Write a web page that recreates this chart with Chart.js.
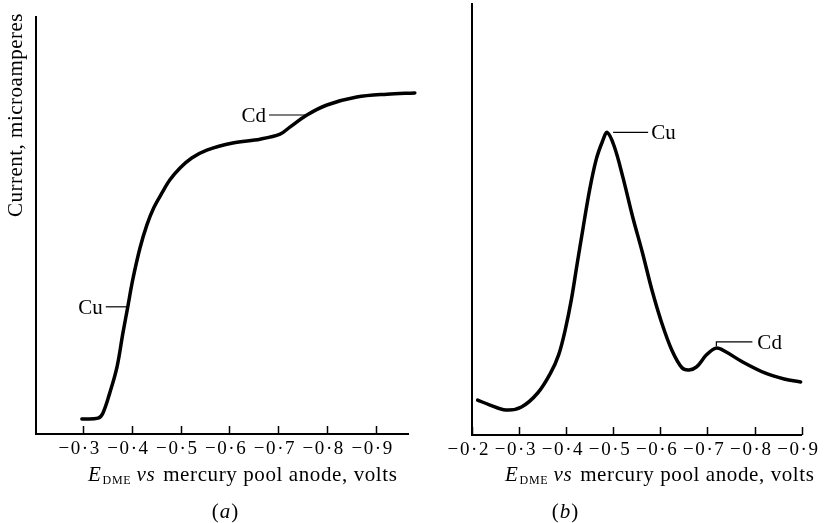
<!DOCTYPE html>
<html><head><meta charset="utf-8">
<script src="https://cdn.jsdelivr.net/npm/chart.js@4.4.1/dist/chart.umd.min.js"></script>
<style>
html,body{margin:0;padding:0;background:#fff;width:826px;height:523px;overflow:hidden}
#ca{position:absolute;left:0;top:0}
#cb{position:absolute;left:430px;top:0}
</style></head><body>
<canvas id="ca" width="420" height="523"></canvas>
<canvas id="cb" width="396" height="523"></canvas>
<script>
// ---- data (panel a: polarogram, panel b: derivative-type polarogram) ----
const xTicksA = [-0.3,-0.4,-0.5,-0.6,-0.7,-0.8,-0.9];
const potentialA = [-0.298,-0.331,-0.341,-0.355,-0.370,-0.382,-0.392,-0.402,-0.417,-0.431,-0.445,-0.462,-0.478,-0.499,-0.523,-0.554,-0.607,-0.663,-0.704,-0.724,-0.759,-0.800,-0.861,-0.923,-0.980];
const currentA   = [3.6,3.8,5.0,9.8,16.1,24.2,30.5,36.9,44.6,50.1,54.2,57.8,60.9,63.8,66.2,68.1,69.8,70.7,71.9,73.6,76.5,78.9,80.8,81.5,81.8];

const xTicksB = [-0.2,-0.3,-0.4,-0.5,-0.6,-0.7,-0.8,-0.9];
const potentialB = [-0.212,-0.237,-0.272,-0.305,-0.340,-0.367,-0.384,-0.398,-0.411,-0.423,-0.436,-0.450,-0.464,-0.477,-0.487,-0.502,-0.520,-0.541,-0.562,-0.582,-0.603,-0.624,-0.646,-0.661,-0.677,-0.698,-0.719,-0.739,-0.774,-0.822,-0.863,-0.898];
const currentB   = [8.1,7.0,5.8,6.5,9.8,14.4,18.6,24.4,31.4,39.5,48.1,57.0,64.0,68.1,70.2,67.0,60.0,50.7,42.3,33.7,26.0,19.8,15.6,15.1,15.8,18.6,20.2,19.3,17.0,14.4,13.0,12.3];

const labelsA = ['Cu','Cd'];
const anchorXA = [-0.392,-0.759];
const anchorYA = [30.5,76.5];
const labelsB = ['Cu','Cd'];
const anchorXB = [-0.487,-0.719];
const anchorYB = [70.2,20.2];

const xTitleParts = ['E','DME','vs','mercury pool anode, volts'];
const yTitle = 'Current, microamperes';
const panelNames = ['a','b'];

// ---- styling ----
const SERIF = '"Liberation Serif", "Times New Roman", serif';
function fmtTick(v){
  const s = Math.abs(v).toFixed(1).split('.');
  return '\u2212\u200A' + s[0] + '\u200A\u00B7\u200A' + s[1];
}

function drawXTitle(ctx, x0, base){
  ctx.save();
  ctx.fillStyle = '#000';
  ctx.textAlign = 'left';
  ctx.textBaseline = 'alphabetic';
  try { ctx.letterSpacing = '0.6px'; } catch(e){}
  let x = x0;
  ctx.font = 'italic 21px ' + SERIF;
  ctx.fillText(xTitleParts[0], x, base); x += ctx.measureText(xTitleParts[0]).width + 1;
  ctx.font = '12px ' + SERIF;
  try { ctx.letterSpacing = '0.8px'; } catch(e){}
  ctx.fillText(xTitleParts[1], x, base + 3); x += ctx.measureText(xTitleParts[1]).width + 5;
  try { ctx.letterSpacing = '0.6px'; } catch(e){}
  ctx.font = 'italic 21px ' + SERIF;
  ctx.fillText(xTitleParts[2], x, base); x += ctx.measureText(xTitleParts[2]).width + 8;
  ctx.font = '21px ' + SERIF;
  try { ctx.letterSpacing = '0.6px'; } catch(e){}
  ctx.fillText(xTitleParts[3], x, base);
  ctx.restore();
}
function drawPanelName(ctx, cx, base, name){
  ctx.save();
  ctx.fillStyle = '#000';
  ctx.textBaseline = 'alphabetic';
  ctx.textAlign = 'left';
  ctx.font = '21px ' + SERIF;
  const wp = ctx.measureText('(').width, wc = ctx.measureText(')').width;
  ctx.font = 'italic 21px ' + SERIF;
  const wn = ctx.measureText(name).width;
  let x = cx - (wp + wn + wc + 2)/2;
  ctx.font = '21px ' + SERIF; ctx.fillText('(', x, base); x += wp + 1;
  ctx.font = 'italic 21px ' + SERIF; ctx.fillText(name, x, base); x += wn + 1;
  ctx.font = '21px ' + SERIF; ctx.fillText(')', x, base);
  ctx.restore();
}

function innerTicksPlugin(){
  return {
    id:'innerTicks',
    afterDraw(chart){
      const xs = chart.scales.x, ctx = chart.ctx, b = chart.chartArea.bottom;
      ctx.save();
      ctx.strokeStyle = '#000'; ctx.lineWidth = 1.5;
      xs.ticks.forEach(t => {
        const px = Math.round(xs.getPixelForValue(t.value)) + 0.5;
        ctx.beginPath(); ctx.moveTo(px, b); ctx.lineTo(px, b - 8); ctx.stroke();
      });
      ctx.restore();
    }
  };
}

function makeChart(id, xs, ys, ticks, xmin, xmax, pad, extra){
  return new Chart(document.getElementById(id), {
    type:'line',
    data:{ datasets:[{
      data: xs.map((x,i)=>({x:x, y:ys[i]})),
      borderColor:'#000', borderWidth:3.5, pointRadius:0,
      fill:false, tension:0.35, clip:false,
      borderCapStyle:'round', borderJoinStyle:'round'
    }]},
    options:{
      responsive:false, animation:false,
      layout:{padding:{left:pad.left, top:pad.top, right:pad.right, bottom:0}},
      plugins:{legend:{display:false}, tooltip:{enabled:false}},
      scales:{
        x:{
          type:'linear', reverse:true, min:xmin, max:xmax,
          afterBuildTicks: s => { s.ticks = ticks.map(v => ({value:v})); },
          afterFit: s => { s.height = s.chart.height - pad.axisY; },
          ticks:{ callback: v => fmtTick(v), autoSkip:false, maxRotation:0, minRotation:0,
                  font:{family:SERIF, size:19}, color:'#000', padding:4, labelOffset:-4 },
          grid:{display:false, drawTicks:false},
          border:{display:true, color:'#000', width:2}
        },
        y:{
          min:0, max:100,
          afterFit: s => { s.width = 0; },
          ticks:{display:false},
          grid:{display:false, drawTicks:false},
          border:{display:true, color:'#000', width:2}
        }
      }
    },
    plugins:[innerTicksPlugin(), extra]
  });
}

function annotate(chart, labels, ax, ay, styleFn){
  const ctx = chart.ctx, xs = chart.scales.x, ysc = chart.scales.y;
  ctx.save();
  ctx.strokeStyle = '#000'; ctx.fillStyle = '#000'; ctx.lineWidth = 1.2;
  ctx.font = '21px ' + SERIF; ctx.textBaseline = 'alphabetic';
  labels.forEach((lab,i) => {
    const px = xs.getPixelForValue(ax[i]), py = ysc.getPixelForValue(ay[i]);
    styleFn(ctx, lab, i, px, py);
  });
  ctx.restore();
}

// panel a
makeChart('ca', potentialA, currentA, xTicksA, -0.966, -0.204,
  {left:36, top:17, right:12, axisY:434},
  { id:'decorA',
    afterDatasetsDraw(chart){
      annotate(chart, labelsA, anchorXA, anchorYA, (ctx, lab, i, px, py) => {
        const len = i === 0 ? 21 : 37;
        ctx.beginPath(); ctx.moveTo(px - 1, py); ctx.lineTo(px - 1 - len, py); ctx.stroke();
        ctx.textAlign = 'right';
        ctx.fillText(lab, px - len - 4, py + 7);
      });
    },
    afterDraw(chart){
      const ctx = chart.ctx;
      drawXTitle(ctx, 88, 481);
      drawPanelName(ctx, 225, 518, panelNames[0]);
      ctx.save();
      ctx.translate(22, 115); ctx.rotate(-Math.PI/2);
      ctx.fillStyle = '#000'; ctx.font = '21px ' + SERIF;
      try { ctx.letterSpacing = '0.5px'; } catch(e){}
      ctx.textAlign = 'center'; ctx.textBaseline = 'alphabetic';
      ctx.fillText(yTitle, 0, 0);
      ctx.restore();
    }
  });

// panel b
makeChart('cb', potentialB, currentB, xTicksB, -0.9, -0.2,
  {left:42, top:4, right:15, axisY:435},
  { id:'decorB',
    afterDatasetsDraw(chart){
      annotate(chart, labelsB, anchorXB, anchorYB, (ctx, lab, i, px, py) => {
        ctx.textAlign = 'left';
        if (i === 0) {
          ctx.beginPath(); ctx.moveTo(px + 6, py); ctx.lineTo(px + 41, py); ctx.stroke();
          ctx.fillText(lab, px + 44, py + 7);
        } else {
          ctx.beginPath(); ctx.moveTo(px, py - 2); ctx.lineTo(px, py - 6); ctx.lineTo(px + 36, py - 6); ctx.stroke();
          ctx.fillText(lab, px + 41, py + 1);
        }
      });
    },
    afterDraw(chart){
      drawXTitle(chart.ctx, 75, 481);
      drawPanelName(chart.ctx, 135, 518, panelNames[1]);
    }
  });
</script>
</body></html>
